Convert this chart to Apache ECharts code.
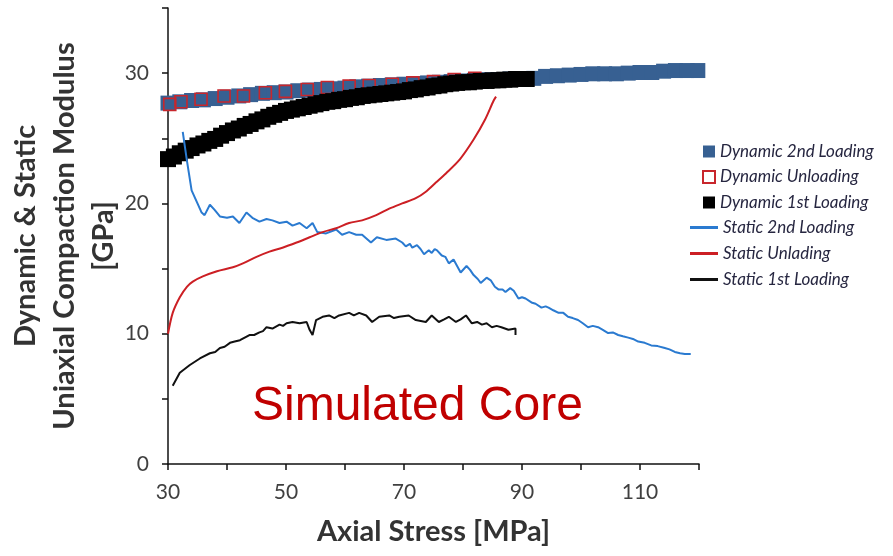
<!DOCTYPE html>
<html>
<head>
<meta charset="utf-8">
<script src="https://cdn.jsdelivr.net/npm/echarts@6.0.0/dist/echarts.min.js"></script>
<style>
  html, body { margin: 0; padding: 0; background: #fff; }
  #chart { width: 893px; height: 556px; }
</style>
</head>
<body>
<div id="chart"></div>
<script>
// [axial stress MPa, modulus GPa]
const dyn2ndLoading = [
  [30,27.7],[32,27.8],[34,27.9],[36,27.95],[38,28.05],[40,28.15],[42,28.25],[44,28.35],[46,28.45],[48,28.5],
  [50,28.55],[52,28.65],[54,28.7],[56,28.75],[58,28.8],[60,28.85],[62,28.95],[64,29.0],[66,29.05],[68,29.1],
  [70,29.15],[72,29.2],[74,29.25],[76,29.3],[78,29.35],[80,29.4],[82,29.45],[84,29.5],[86,29.5],[88,29.55],
  [90,29.55],[92,29.6],[94,29.75],[96,29.8],[98,29.85],[100,29.9],[102,29.95],[104,29.95],[106,29.95],[108,30.0],
  [110,30.05],[112,30.05],[114,30.15],[116,30.2],[118,30.2],[119.8,30.2]
];
const dynUnloading = [
  [30.3,27.6],[32.2,27.8],[35.6,28.0],[39.5,28.25],[42.8,28.25],[46.5,28.5],[49.9,28.6],[53.6,28.75],
  [57.0,28.9],[60.7,29.0],[64.1,29.05],[68.0,29.15],[71.5,29.25],[75.0,29.35],[78.5,29.5],[82.0,29.6]
];
const dyn1stLoading = [
  [30,23.4],[31,23.6],[32,23.85],[33,24.05],[34,24.25],[35,24.45],[36,24.6],[37,24.8],[38,24.95],[39,25.2],
  [40,25.4],[41,25.6],[42,25.75],[43,25.95],[44,26.1],[45,26.3],[46,26.45],[47,26.65],[48,26.8],[49,26.95],
  [50,27.1],[51,27.2],[52,27.3],[53,27.4],[54,27.5],[55,27.6],[56,27.7],[57,27.8],[58,27.85],[59,27.95],
  [60,28.0],[61,28.1],[62,28.15],[63,28.25],[64,28.3],[65,28.35],[66,28.4],[67,28.45],[68,28.5],[69,28.55],
  [70,28.6],[71,28.7],[72,28.75],[73,28.85],[74,28.9],[75,29.0],[76,29.05],[77,29.15],[78,29.2],[79,29.25],
  [80,29.3],[81,29.3],[82,29.35],[83,29.4],[84,29.4],[85,29.45],[86,29.45],[87,29.5],[88,29.5],[89,29.55],
  [90,29.55],[90.8,29.55]
];
const static2ndLoading = [
  [32.5,25.5],[33.2,23.3],[34.0,21.0],[34.9,20.1],[35.7,19.3],[36.2,19.1],[37.1,19.9],[37.9,19.5],[38.8,19.0],
  [40.0,18.9],[41.0,19.0],[42.1,18.5],[43.3,19.3],[44.3,18.9],[45.5,18.6],[46.7,18.8],[47.7,18.7],[48.9,18.5],
  [50.1,18.6],[51.1,18.3],[52.3,18.5],[53.5,18.1],[54.5,18.5],[55.3,17.8],[56.8,17.7],[58.5,18.0],[59.5,17.6],
  [60.7,17.8],[61.9,17.6],[62.9,17.6],[64.4,17.0],[65.4,17.4],[67.0,17.2],[68.6,17.3],[69.7,17.0],[70.3,16.7],
  [71.0,16.9],[71.4,16.6],[72.2,16.8],[72.8,16.5],[73.4,16.1],[74.2,16.4],[74.7,16.2],[75.2,16.5],[75.6,16.4],
  [76.4,16.0],[77.0,15.9],[77.6,15.4],[78.4,15.7],[79.0,15.2],[79.6,14.7],[80.6,15.2],[81.2,14.9],[81.8,14.5],
  [82.5,14.2],[83.0,13.9],[84.0,14.3],[84.7,14.1],[85.4,13.6],[86.0,13.4],[86.7,13.4],[87.2,13.2],[88.0,13.5],
  [88.6,13.3],[89.4,12.7],[90.0,12.8],[90.6,12.7],[91.6,12.4],[92.3,12.3],[93.3,12.0],[94.0,12.1],[94.5,12.0],
  [95.3,11.8],[96.2,11.6],[97.0,11.6],[97.8,11.3],[98.6,11.2],[99.5,11.05],[100.3,10.8],[101.2,10.5],[102.0,10.6],
  [102.9,10.5],[103.7,10.3],[104.6,10.05],[105.4,10.1],[106.3,9.9],[107.1,9.8],[108.0,9.7],[108.8,9.6],[109.7,9.4],
  [110.8,9.3],[111.9,9.1],[113.0,9.05],[114.2,8.9],[115.0,8.8],[115.9,8.6],[116.8,8.5],[117.6,8.45],[118.6,8.45]
];
const staticUnloading = [
  [30.0,10.0],[30.8,11.6],[32.0,12.8],[33.2,13.6],[34.2,14.0],[35.9,14.4],[38.3,14.8],[41.0,15.1],[42.7,15.4],
  [45.0,15.9],[47.2,16.3],[49.4,16.6],[51.8,17.0],[54.0,17.4],[56.2,17.8],[58.5,18.1],[60.7,18.5],[62.9,18.7],
  [65.3,19.1],[67.5,19.6],[69.7,20.0],[72.0,20.4],[73.7,20.9],[75.4,21.6],[77.1,22.3],[79.5,23.4],[81.8,24.9],
  [83.7,26.4],[85.2,27.9],[85.6,28.2]
];
const static1stLoading = [
  [30.8,6.0],[32.0,7.0],[33.7,7.6],[35.4,8.1],[37.1,8.5],[38.0,8.6],[38.8,8.9],[39.6,9.0],[40.5,9.3],[41.3,9.4],
  [42.2,9.5],[43.0,9.7],[43.8,9.9],[44.6,9.9],[45.5,10.1],[46.1,10.2],[46.7,10.5],[47.7,10.4],[48.9,10.7],
  [49.5,10.6],[50.1,10.8],[51.1,10.9],[52.3,10.8],[53.5,10.9],[54.0,10.3],[54.5,9.9],[55.1,11.05],[56.2,11.3],
  [57.3,11.4],[58.2,11.2],[59.0,11.4],[60.7,11.6],[61.5,11.4],[62.4,11.6],[63.6,11.4],[64.6,10.9],[65.8,11.3],
  [67.5,11.4],[68.3,11.2],[69.2,11.3],[70.8,11.4],[72.0,11.05],[73.7,10.9],[74.7,11.4],[75.9,10.9],[76.8,11.1],
  [77.6,11.3],[78.8,10.9],[79.6,11.1],[80.5,11.4],[81.5,10.8],[82.4,10.9],[83.2,10.7],[84.0,10.8],[84.9,10.5],
  [85.7,10.6],[86.5,10.5],[87.7,10.3],[88.9,10.4],[88.9,9.9]
];
const xTicks = [30, 50, 70, 90, 110];
const yTicks = [0, 10, 20, 30];

const chart = echarts.init(document.getElementById('chart'));

const legendText = { fontFamily: 'Lato', fontStyle: 'italic', fontSize: 17, color: '#262640', lineHeight: 17 };

chart.setOption({
  animation: false,
  grid: { left: 168, right: 194, top: 8, bottom: 92, outerBoundsMode: 'none', containLabel: false },
  legend: [
    {
      orient: 'vertical', left: 697, top: 138, itemWidth: 12, itemHeight: 12, itemGap: 8.5,
      textStyle: legendText,
      data: [
        { name: 'Dynamic 2nd Loading', icon: 'rect' },
        { name: 'Dynamic Unloading', icon: 'rect' },
        { name: 'Dynamic 1st Loading', icon: 'rect' }
      ]
    },
    {
      orient: 'vertical', left: 685, top: 214, itemWidth: 28, itemHeight: 3, itemGap: 9,
      textStyle: legendText,
      data: [
        { name: 'Static 2nd Loading', icon: 'rect' },
        { name: 'Static Unlading', icon: 'rect' },
        { name: 'Static 1st Loading', icon: 'rect' }
      ]
    }
  ],
  xAxis: {
    type: 'value', min: 30, max: 120, interval: 10,
    name: 'Axial Stress [MPa]', nameLocation: 'middle', nameGap: 53,
    nameTextStyle: { fontFamily: 'Lato', fontWeight: 'bold', fontSize: 29, color: '#333' },
    axisLine: { lineStyle: { color: '#111', width: 1.5 } },
    axisTick: { length: 6, lineStyle: { color: '#111', width: 1.5 } },
    axisLabel: {
      margin: 18, fontFamily: 'Lato', fontSize: 21, color: '#404040',
      formatter: v => xTicks.includes(v) ? String(v) : ''
    },
    splitLine: { show: false }
  },
  yAxis: {
    type: 'value', min: 0, max: 35, interval: 5,
    name: 'Dynamic & Static\nUniaxial Compaction Modulus\n[GPa]',
    nameLocation: 'middle', nameGap: 45, nameMoveOverlap: false,
    nameTextStyle: { fontFamily: 'Lato', fontWeight: 'bold', fontSize: 29, lineHeight: 39, color: '#333' },
    axisLine: { show: true, lineStyle: { color: '#111', width: 1.5 } },
    axisTick: { show: true, length: 6, lineStyle: { color: '#111', width: 1.5 } },
    axisLabel: {
      margin: 19, fontFamily: 'Lato', fontSize: 21, color: '#404040',
      formatter: v => yTicks.includes(v) ? String(v) : ''
    },
    splitLine: { show: false }
  },
  graphic: [{
    type: 'text', left: 252, top: 383,
    style: { text: 'Simulated Core', font: '48px "Liberation Sans"', fill: '#c00000' }
  }],
  series: [
    {
      name: 'Dynamic 2nd Loading', type: 'scatter', data: dyn2ndLoading,
      symbol: 'rect', symbolSize: 15, itemStyle: { color: '#376092', opacity: 1 }
    },
    {
      name: 'Dynamic Unloading', type: 'scatter', data: dynUnloading,
      symbol: 'rect', symbolSize: 12,
      itemStyle: { color: 'rgba(0,0,0,0)', borderColor: '#c8262c', borderWidth: 1.6, opacity: 1 }
    },
    {
      name: 'Dynamic 1st Loading', type: 'scatter', data: dyn1stLoading,
      symbol: 'rect', symbolSize: 16, itemStyle: { color: '#000', opacity: 1 }
    },
    {
      name: 'Static 2nd Loading', type: 'line', data: static2ndLoading, showSymbol: false,
      lineStyle: { color: '#2a7ad0', width: 2 }, itemStyle: { color: '#2a7ad0' }
    },
    {
      name: 'Static Unlading', type: 'line', data: staticUnloading, showSymbol: false, smooth: 0.3,
      lineStyle: { color: '#cc1f24', width: 2 }, itemStyle: { color: '#cc1f24' }
    },
    {
      name: 'Static 1st Loading', type: 'line', data: static1stLoading, showSymbol: false,
      lineStyle: { color: '#111', width: 2 }, itemStyle: { color: '#111' }
    }
  ]
});
</script>
</body>
</html>
